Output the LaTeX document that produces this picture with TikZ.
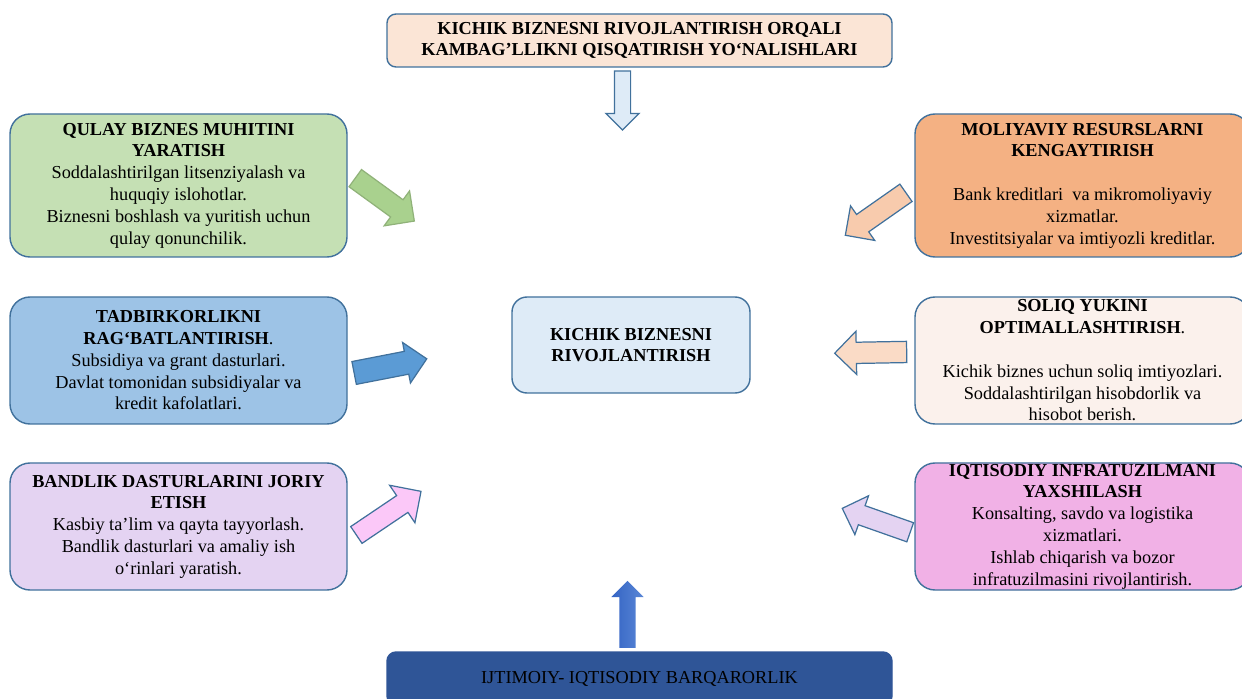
\documentclass[tikz,border=0pt]{standalone}
\usepackage{fontspec}
\setmainfont{Liberation Serif}
\usetikzlibrary{shapes.arrows}
\usepackage{xcolor}

\definecolor{chiziq}{HTML}{41719C}
\definecolor{shaftoli}{HTML}{FBE5D6}
\definecolor{yashil}{HTML}{C5E0B4}
\definecolor{yashilo}{HTML}{A9D18E}
\definecolor{apelsin}{HTML}{F4B183}
\definecolor{apelsino}{HTML}{F8CBAD}
\definecolor{moviy}{HTML}{9DC3E6}
\definecolor{moviyo}{HTML}{5B9BD5}
\definecolor{ochmoviy}{HTML}{DEEBF7}
\definecolor{ochpushti}{HTML}{FBF1EC}
\definecolor{binafsha}{HTML}{E4D3F2}
\definecolor{pushti}{HTML}{F1B1E6}
\definecolor{pushtio}{HTML}{FBC8F8}
\definecolor{toqmoviy}{HTML}{2F5597}
\definecolor{gradpast}{HTML}{3464C4}
\definecolor{gradtepa}{HTML}{5A87D6}

\newcommand{\px}{0.02cm}
\newcommand{\matn}{\fontsize{10.4}{12.4}\selectfont}

\begin{document}
\begin{tikzpicture}[x=0.02cm,y=-0.02cm,
    quti/.style={draw=chiziq,line width=0.8pt,rounded corners=20*\px,align=center,inner sep=0pt,font=\matn},
    strelka/.style={single arrow,draw=chiziq,line width=0.7pt,inner xsep=0pt,single arrow tip angle=90},
    olcham/.style n args={3}{minimum height=#1*\px,inner ysep=#2/2*\px,single arrow head extend=#3/2*\px-#2/2*\px}]
            \useasboundingbox (0,0) rectangle (1242,699);
            \clip (0,0) rectangle (1242,699);
            % yuqori va markaz
            \node (sarlavha) [quti,rounded corners=9*\px,fill=shaftoli,minimum width=505*\px,minimum height=53*\px] at (639.5,40.5)
                {\textbf{KICHIK BIZNESNI RIVOJLANTIRISH ORQALI}\\\textbf{KAMBAG’LLIKNI QISQATIRISH YO‘NALISHLARI}};
            \node (markaz) [quti,rounded corners=15*\px,fill=ochmoviy,minimum width=238*\px,minimum height=96*\px] at (631,345)
                {\textbf{KICHIK BIZNESNI}\\\textbf{RIVOJLANTIRISH}};
            \node (barqaror) [quti,rounded corners=9*\px,draw=toqmoviy,fill=toqmoviy,minimum width=505*\px,minimum height=53*\px] at (639.5,678.5)
                {IJTIMOIY- IQTISODIY BARQARORLIK};
            % chap tomon
            \node (muhit) [quti,fill=yashil,minimum width=337*\px,minimum height=143*\px] at (178.5,185.5)
                {\textbf{QULAY BIZNES MUHITINI}\\\textbf{YARATISH}\\Soddalashtirilgan litsenziyalash va\\huquqiy islohotlar.\\Biznesni boshlash va yuritish uchun\\qulay qonunchilik.};
            \node (tadbir) [quti,fill=moviy,minimum width=337*\px,minimum height=127*\px] at (178.5,360.5)
                {\textbf{TADBIRKORLIKNI}\\\textbf{RAG‘BATLANTIRISH}.\\Subsidiya va grant dasturlari.\\Davlat tomonidan subsidiyalar va\\kredit kafolatlari.};
            \node (bandlik) [quti,fill=binafsha,minimum width=337*\px,minimum height=127*\px] at (178.5,526.5)
                {\textbf{BANDLIK DASTURLARINI JORIY}\\\textbf{ETISH}\\Kasbiy ta’lim va qayta tayyorlash.\\Bandlik dasturlari va amaliy ish\\o‘rinlari yaratish.};
            % o'ng tomon
            \node (moliya) [quti,fill=apelsin,minimum width=335*\px,minimum height=143*\px] at (1082.5,185.5)
                {\textbf{MOLIYAVIY RESURSLARNI}\\\textbf{KENGAYTIRISH}\\[12.4pt]Bank kreditlari\ \ va mikromoliyaviy\\xizmatlar.\\Investitsiyalar va imtiyozli kreditlar.};
            \node (soliq) [quti,fill=ochpushti,minimum width=335*\px,minimum height=127*\px] at (1082.5,360.5)
                {\textbf{SOLIQ YUKINI}\\\textbf{OPTIMALLASHTIRISH}.\\[12.4pt]Kichik biznes uchun soliq imtiyozlari.\\Soddalashtirilgan hisobdorlik va\\hisobot berish.};
            \node (infra) [quti,fill=pushti,minimum width=335*\px,minimum height=127*\px] at (1082.5,526.5)
                {\textbf{IQTISODIY INFRATUZILMANI}\\\textbf{YAXSHILASH}\\Konsalting, savdo va logistika\\xizmatlari.\\Ishlab chiqarish va bozor\\infratuzilmasini rivojlantirish.};
            % strelkalar
            \node (s1) [strelka,fill=ochmoviy,rotate=-90,olcham={59}{15}{32}] at (622.5,96.5) {};
            \node (s2) [strelka,draw=yashilo!85!black,fill=yashilo,rotate=-36,olcham={73}{20}{42}] at (380.5,196.5) {};
            \node (s3) [strelka,fill=apelsino,rotate=215,olcham={74}{20}{41}] at (880,211) {};
            \node (s4) [strelka,fill=moviyo,rotate=11,olcham={74}{22}{40}] at (384.75,367) {};
            \node (s5) [strelka,fill=apelsino!70!white,rotate=181,olcham={72}{20}{42}] at (876,352.5) {};
            \node (s6) [strelka,fill=pushtio,rotate=34,olcham={78}{19}{44}] at (384.5,516) {};
            \node (s7) [strelka,fill=binafsha,rotate=160.6,olcham={72}{19}{40}] at (881,522) {};
            \node (s8) [strelka,draw=none,left color=gradpast,right color=gradtepa,rotate=90,olcham={67}{15}{31}] at (627.5,618.5) {};
\end{tikzpicture}
\end{document}
